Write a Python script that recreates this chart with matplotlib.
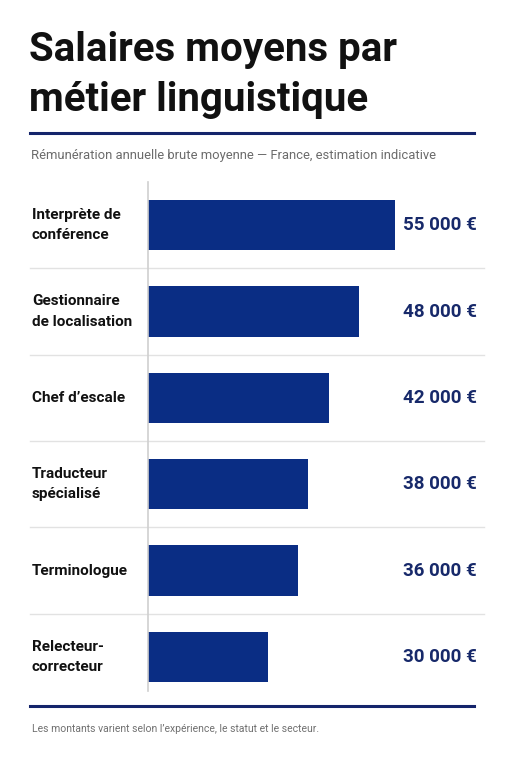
import matplotlib
matplotlib.use("Agg")
import matplotlib.pyplot as plt
from matplotlib.transforms import blended_transform_factory

metiers = ["Interprète de\nconférence", "Gestionnaire\nde localisation", "Chef d’escale",
           "Traducteur\nspécialisé", "Terminologue", "Relecteur-\ncorrecteur"]
salaires = [55000, 48000, 42000, 38000, 36000, 30000]
etiquettes = ["55 000 €", "48 000 €", "42 000 €", "38 000 €", "36 000 €", "30 000 €"]

FONT = ["Roboto", "DejaVu Sans"]
BAR = "#0a2d84"
INK = "#17296a"
RULE = "#14246b"

W, H = 511, 768
fig = plt.figure(figsize=(W / 100, H / 100), dpi=100)
fig.patch.set_facecolor("white")


def fx(px):
    return px / W


def fy(py):
    return 1 - py / H


# title
fig.text(fx(29), fy(61), "Salaires moyens par", family=FONT, weight="bold",
         fontsize=29, color="#111111", va="baseline")
fig.text(fx(29), fy(111), "métier linguistique", family=FONT, weight="bold",
         fontsize=29, color="#111111", va="baseline")
fig.add_artist(plt.Line2D([fx(30), fx(474)], [fy(133), fy(133)], color=RULE, lw=2.2))
fig.text(fx(31), fy(155), "Rémunération annuelle brute moyenne — France, estimation indicative",
         family=FONT, fontsize=9.4, color="#6b6b6b", va="center")

ax = fig.add_axes([fx(148), fy(700), fx(484) - fx(148), (700 - 182) / H])
y = list(range(len(metiers)))
ax.barh(y, salaires, height=0.58, color=BAR)
ax.set_xlim(6500, 72500)
ax.set_ylim(len(metiers) - 0.5, -0.5)

for s in ["top", "right", "bottom"]:
    ax.spines[s].set_visible(False)
ax.spines["left"].set_color("#cfcfcf")
ax.spines["left"].set_linewidth(1.2)
ax.spines["left"].set_bounds(len(metiers) - 0.6, -0.5)
ax.set_xticks([])
ax.set_yticks([])

for i in range(len(metiers) - 1):
    ax.axhline(i + 0.5, xmin=-0.351, xmax=1, color="#e2e2e2", lw=1, clip_on=False)

lab_tr = blended_transform_factory(fig.transFigure, ax.transData)
val_tr = blended_transform_factory(ax.transAxes, ax.transData)
for i, (m, e) in enumerate(zip(metiers, etiquettes)):
    ax.text(fx(32), i, m, transform=lab_tr, family=FONT, weight="bold",
            fontsize=11, color="#111111", ha="left", va="center", linespacing=1.55)
    ax.text(0.979, i, e, transform=val_tr, family=FONT, weight="bold",
            fontsize=13.5, color=INK, ha="right", va="center")

fig.add_artist(plt.Line2D([fx(30), fx(474)], [fy(706), fy(706)], color=RULE, lw=2.2))
fig.text(fx(32), fy(729), "Les montants varient selon l’expérience, le statut et le secteur.",
         family=FONT, fontsize=7.5, color="#707070", va="center")

fig.savefig("out.png", dpi=100, facecolor="white")
